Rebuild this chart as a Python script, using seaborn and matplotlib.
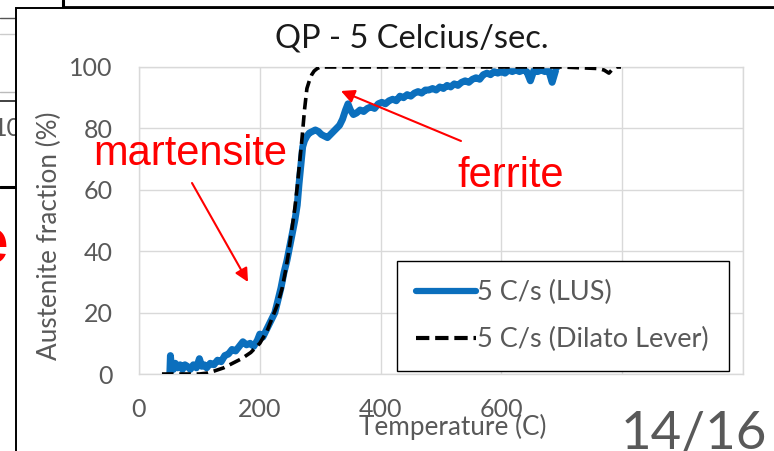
import numpy as np
import pandas as pd
import matplotlib
matplotlib.use("Agg")
import matplotlib.pyplot as plt
from matplotlib.lines import Line2D
from matplotlib.patches import Rectangle
from matplotlib.ticker import MultipleLocator
import seaborn as sns

# ---- data -------------------------------------------------------------
lus_temp = [51, 52, 54, 57, 60, 64, 68, 72, 76, 80, 85, 90, 95, 100, 104, 108,
            112, 118, 124, 130, 136, 142, 148, 154, 160, 166, 172, 178, 184, 190,
            196, 200, 205, 210, 215, 220, 225, 230, 235, 240, 245, 250, 255, 258,
            262, 265, 268, 271, 274, 278, 282, 287, 292, 297, 302, 307, 312, 317,
            322, 327, 332, 337, 342, 346, 350, 355, 360, 366, 372, 378, 384, 390,
            396, 402, 408, 414, 420, 426, 432, 438, 444, 450, 456, 462, 468, 474,
            480, 486, 492, 498, 504, 510, 516, 522, 528, 534, 540, 546, 552, 558,
            564, 570, 576, 582, 588, 594, 600, 606, 612, 618, 624, 630, 636, 642,
            648, 654, 660, 666, 672, 678, 684, 690, 694]
lus_frac = [0, 6, 2, 1.5, 3.5, 2, 3, 1.5, 3, 2.5, 1.5, 3, 2, 5, 2.5, 3,
            2, 3.5, 3, 4.5, 4, 6, 6.5, 8, 7.5, 9, 10.5, 9.5, 10, 9,
            11, 13, 12, 14, 16, 18, 20, 24, 28, 33, 37, 42, 47, 50,
            55, 62, 68, 74, 76, 77.5, 78.5, 79, 79.5, 79, 78, 77.5, 77, 78,
            79, 80, 81, 83, 86, 88, 86, 84.5, 85, 86, 85.5, 86.5, 87, 86.5,
            88, 88.5, 88, 89, 89.5, 89, 90.5, 90, 91, 90.5, 91.5, 92, 91.5, 92.5,
            92.5, 93, 92.5, 93.5, 93, 94, 93.5, 94.5, 94, 95, 95.5, 95, 96, 96.5,
            96, 97.5, 98, 97.5, 98.5, 98, 98.5, 98, 99, 98.5, 99, 98.5, 99, 98.5,
            95.5, 99, 98.5, 99, 98.5, 99, 95, 99, 98.5]

dil_temp = [38, 60, 80, 100, 113, 125, 140, 155, 170, 185, 200, 212, 222, 230,
            237, 243, 248, 253, 258, 262, 266, 270, 274, 278, 282, 286, 290, 295,
            300, 330, 400, 500, 600, 700, 760, 770, 778, 785, 790, 798]
dil_frac = [0, 0, 0, 0, 0.3, 1, 2, 3.5, 5, 7, 10, 14, 19, 23,
            28, 34, 40, 47, 54, 61, 69, 77, 86, 93, 95.5, 97.5, 98.7, 99.5,
            100, 100, 100, 100, 100, 100, 99.5, 99, 98, 99.5, 100, 100]

series_names = ["5 C/s (LUS)", "5 C/s (Dilato Lever)"]
x_ticks = [0, 200, 400, 600, 800, 1000]
x_tick_labels = ["0", "200", "400", "600", "", ""]
y_ticks = [0, 20, 40, 60, 80, 100]

df = pd.concat([
    pd.DataFrame({"Temperature": lus_temp, "Fraction": lus_frac, "Series": series_names[0]}),
    pd.DataFrame({"Temperature": dil_temp, "Fraction": dil_frac, "Series": series_names[1]}),
], ignore_index=True)

# ---- style ------------------------------------------------------------
sns.set_style("white")
plt.rcParams["font.family"] = ["Lato", "DejaVu Sans"]
GREY = "#595959"
GRID = "#d9d9d9"
BLUE = "#0b6fbd"

W, H = 774, 451
fig = plt.figure(figsize=(W / 100, H / 100), dpi=100)

def fx(px):
    return px / W

def fy(py):
    return 1 - py / H

# slide elements behind the chart panel
for y, c, lw in [(18, "#555555", 1.0), (34, "#cccccc", 1.0), (92, "#bbbbbb", 1.0),
                 (101, "#333333", 1.3), (187, "#000000", 2.2)]:
    fig.add_artist(Line2D([0, fx(20)], [fy(y), fy(y)], color=c, lw=lw, zorder=-3))
fig.add_artist(Line2D([fx(63), fx(63)], [1.0, fy(8)], color="black", lw=2.2, zorder=-3))
fig.add_artist(Line2D([fx(63), 1.0], [fy(7), fy(7)], color="black", lw=2.0, zorder=-3))
fig.text(fx(22), fy(129), "10", color=GREY, fontsize=18, ha="right", va="center", zorder=-3)
fig.text(fx(8), fy(263), "e", color="red", fontsize=46, fontweight="bold",
         family="Liberation Sans", ha="right", va="baseline", zorder=-3)

# chart panel
fig.add_artist(Rectangle((fx(16), -0.1), 1.2, fy(8) + 0.1, transform=fig.transFigure,
                         facecolor="white", edgecolor="black", lw=1.4, zorder=-2))

# ---- axes -------------------------------------------------------------
ax = fig.add_axes([fx(139), fy(374), fx(743) - fx(139), fy(67) - fy(374)])
ax.set_facecolor("none")

sns.lineplot(data=df, x="Temperature", y="Fraction", hue="Series", style="Series",
             palette=[BLUE, "black"], dashes=[(1, 0), (3.2, 1.6)],
             sort=False, estimator=None, ax=ax, legend=False)
lines = ax.get_lines()
lines[0].set_linewidth(5.0)
lines[0].set_solid_capstyle("round")
lines[0].set_solid_joinstyle("round")
lines[0].set_zorder(2)
lines[1].set_linewidth(2.6)
lines[1].set_zorder(3)

ax.set_xlim(0, 1000)
ax.set_ylim(0, 100)
ax.set_xticks(x_ticks)
ax.set_xticklabels(x_tick_labels)
ax.set_yticks(y_ticks)
ax.xaxis.set_minor_locator(MultipleLocator(100))
ax.yaxis.set_minor_locator(MultipleLocator(10))
ax.grid(True, which="major", color=GRID, lw=1.0)
ax.tick_params(which="major", length=0, labelsize=18, labelcolor=GREY)
ax.tick_params(axis="y", which="major", pad=19)
ax.tick_params(axis="x", which="major", pad=17)
ax.tick_params(which="minor", direction="in", length=6, width=1.0, color=GRID)
for s in ax.spines.values():
    s.set_color(GRID)
    s.set_linewidth(1.0)

ax.set_xlabel("Temperature (C)", fontsize=18.8, color=GREY)
ax.xaxis.label.set_va("baseline")
ax.xaxis.set_label_coords((453 - 139) / 604, (374 - 435) / 307)
ax.set_ylabel("Austenite fraction (%)", fontsize=18.8, color=GREY)
ax.yaxis.label.set_va("center")
ax.yaxis.set_label_coords((49 - 139) / 604, (374 - 236) / 307)

# legend
handles = [Line2D([], [], color=BLUE, lw=4.5),
           Line2D([], [], color="black", lw=3.0, dashes=(3.2, 1.4))]
leg = ax.legend(handles, series_names, loc="lower left",
                bbox_to_anchor=((397 - 139) / 604, (374 - 371) / 307, (729 - 397) / 604, 0.3),
                mode="expand", fontsize=19.5, handlelength=2.2, handletextpad=0.05,
                labelspacing=0.8, borderpad=0.7, frameon=True, fancybox=False,
                framealpha=1, edgecolor="black", borderaxespad=0)
leg.get_frame().set_linewidth(1.0)
for t in leg.get_texts():
    t.set_color(GREY)

# title
fig.text(fx(412), fy(47), "QP - 5 Celcius/sec.", fontsize=23.5, color="#1a1a1a",
         ha="center", va="baseline")

# phase annotations
RED = "red"
fig.text(fx(93), fy(165), "martensite", color=RED, fontsize=30,
         family="Liberation Sans", ha="left", va="baseline")
fig.text(fx(457), fy(187), "ferrite", color=RED, fontsize=30,
         family="Liberation Sans", ha="left", va="baseline")
arrow = dict(arrowstyle="-|>", color=RED, lw=1.5, mutation_scale=20, shrinkA=0, shrinkB=0)
ax.annotate("", xy=((248 - 139) / 0.604, (374 - 282) / 3.07),
            xytext=((192 - 139) / 0.604, (374 - 183) / 3.07),
            arrowprops=arrow, annotation_clip=False)
ax.annotate("", xy=((341 - 139) / 0.604, (374 - 91) / 3.07),
            xytext=((461 - 139) / 0.604, (374 - 141) / 3.07),
            arrowprops=arrow, annotation_clip=False)

# slide number
fig.text(fx(621), fy(449), "14/16", fontsize=38, color=GREY, ha="left", va="baseline")

fig.savefig("out.png", dpi=100, facecolor="white")
